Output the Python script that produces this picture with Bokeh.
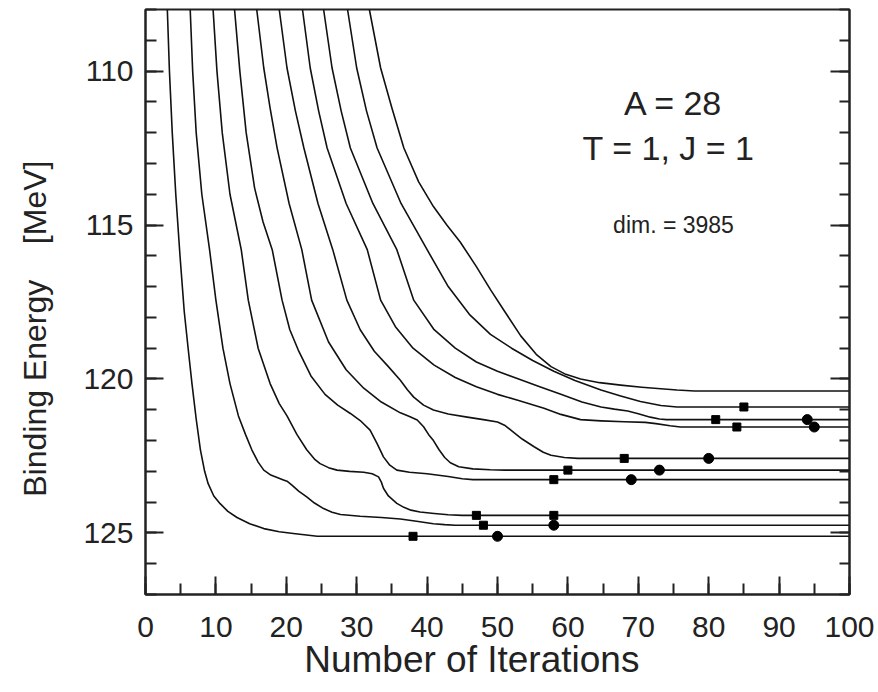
from bokeh.plotting import figure
from bokeh.models import Range1d, FixedTicker, LinearAxis, Label, CustomJSTickFormatter
from bokeh.embed import file_html
from bokeh.resources import INLINE

# ---- data (iteration, binding energy) ----
c1_x = [3.1, 3.4, 3.8, 4.3, 4.9, 5.5, 6.1, 6.6, 7.2, 7.8, 8.4, 8.9, 9.7, 10.6, 11.7, 13.0, 14.8, 16.8, 19.0, 21.0, 24.4, 100]
c1_y = [108.0, 110.0, 112.0, 114.0, 116.0, 117.8, 119.1, 120.15, 121.3, 122.3, 123.0, 123.4, 123.8, 124.05, 124.3, 124.5, 124.7, 124.86, 124.96, 125.02, 125.11, 125.11]

c2_x = [6.35, 6.7, 7.2, 8.0, 9.1, 10.0, 11.0, 12.0, 13.2, 14.2, 15.1, 16.0, 16.8, 17.8, 18.7, 19.5, 20.1, 20.8, 21.8, 22.9, 24.0, 25.3, 26.5, 27.7, 30.5, 33.5, 36.2, 38.5, 40.9, 42.5, 44.0, 100]
c2_y = [108.0, 110.0, 112.0, 114.0, 115.8, 117.44, 119.0, 120.15, 121.2, 121.8, 122.3, 122.7, 122.96, 123.12, 123.2, 123.27, 123.32, 123.45, 123.65, 123.83, 124.03, 124.21, 124.33, 124.40, 124.46, 124.5, 124.55, 124.62, 124.70, 124.73, 124.75, 124.75]

c3_x = [9.6, 10.15, 10.9, 12.0, 13.6, 14.6, 16.0, 17.7, 19.0, 20.1, 21.5, 22.9, 24.0, 24.8, 26.0, 27.2, 29.0, 31.0, 32.2, 33.1, 33.5, 33.8, 34.5, 35.7, 36.7, 37.7, 39.0, 41.0, 43.0, 45.0, 100]
c3_y = [108.0, 110.0, 112.0, 114.0, 115.8, 117.44, 119.0, 120.15, 120.8, 121.2, 121.8, 122.3, 122.6, 122.75, 122.88, 122.96, 123.0, 123.03, 123.08, 123.18, 123.35, 123.55, 123.8, 124.04, 124.17, 124.26, 124.32, 124.37, 124.41, 124.43, 124.43]

c4_x = [12.65, 13.4, 14.3, 15.5, 16.7, 18.0, 19.4, 20.5, 21.7, 23.5, 25.5, 27.3, 29.1, 30.5, 31.9, 32.9, 33.8, 34.7, 35.7, 37.5, 40.0, 43.0, 45.0, 46.5, 100]
c4_y = [108.0, 110.0, 112.0, 113.8, 114.9, 115.8, 117.44, 118.4, 119.06, 119.9, 120.5, 120.85, 121.12, 121.35, 121.66, 122.1, 122.53, 122.8, 122.96, 123.03, 123.08, 123.17, 123.24, 123.27, 123.27]

c5_x = [15.8, 16.8, 17.7, 18.7, 20.4, 22.2, 23.6, 26.0, 28.5, 31.0, 33.5, 36.2, 37.5, 38.6, 39.5, 40.2, 40.9, 41.7, 42.5, 43.3, 44.5, 46.5, 49.0, 51.0, 100]
c5_y = [108.0, 109.9, 111.2, 112.5, 114.3, 115.8, 117.44, 118.8, 119.7, 120.3, 120.75, 121.1, 121.22, 121.33, 121.55, 121.8, 122.0, 122.3, 122.55, 122.72, 122.85, 122.92, 122.95, 122.96, 122.96]

c6_x = [19.0, 20.1, 21.3, 22.5, 24.5, 26.6, 28.6, 30.5, 32.5, 34.5, 36.2, 37.2, 38.1, 39.5, 40.9, 43.0, 45.7, 48.0, 50.0, 51.0, 51.9, 53.5, 55.2, 56.5, 57.6, 59.5, 61.4, 100]
c6_y = [108.0, 109.9, 111.3, 112.5, 114.3, 115.8, 117.44, 118.4, 119.1, 119.6, 120.04, 120.35, 120.59, 120.85, 121.01, 121.14, 121.24, 121.32, 121.4, 121.5, 121.66, 121.95, 122.2, 122.38, 122.48, 122.55, 122.58, 122.58]

c7_x = [22.3, 23.4, 24.6, 25.8, 28.5, 31.5, 33.4, 35.5, 38.0, 41.0, 44.0, 47.0, 50.0, 53.0, 56.6, 59.0, 61.8, 64.7, 68.0, 71.0, 72.5, 74.5, 76.0, 100]
c7_y = [108.0, 109.9, 111.3, 112.5, 114.3, 115.8, 117.44, 118.3, 119.0, 119.55, 119.95, 120.25, 120.5, 120.7, 120.95, 121.15, 121.32, 121.36, 121.39, 121.41, 121.45, 121.52, 121.56, 121.56]

c8_x = [25.3, 26.5, 27.8, 29.1, 32.3, 35.7, 38.1, 41.0, 44.0, 47.0, 50.0, 53.0, 56.0, 59.0, 62.0, 64.7, 66.6, 68.5, 70.0, 71.7, 73.0, 74.0, 100]
c8_y = [108.0, 109.9, 111.3, 112.5, 114.3, 115.8, 117.44, 118.4, 119.0, 119.45, 119.75, 120.0, 120.25, 120.5, 120.75, 120.91, 120.98, 121.04, 121.13, 121.24, 121.3, 121.32, 121.32]

c9_x = [28.7, 30.0, 31.4, 32.9, 36.3, 40.0, 43.0, 46.0, 49.0, 52.0, 55.0, 58.0, 61.0, 64.7, 67.5, 70.3, 73.2, 75.5, 100]
c9_y = [108.0, 109.9, 111.3, 112.5, 114.3, 115.8, 117.0, 117.9, 118.55, 119.0, 119.4, 119.75, 120.05, 120.36, 120.55, 120.73, 120.86, 120.91, 120.91]

c10_x = [31.8, 33.4, 35.0, 36.7, 38.8, 40.9, 42.8, 44.7, 47.0, 49.0, 51.0, 53.3, 55.5, 57.6, 59.7, 61.8, 64.5, 67.5, 70.5, 73.2, 75.5, 78.0, 100]
c10_y = [108.0, 109.9, 111.2, 112.5, 113.6, 114.4, 115.0, 115.55, 116.35, 117.1, 117.8, 118.6, 119.2, 119.6, 119.85, 120.0, 120.12, 120.2, 120.27, 120.32, 120.36, 120.39, 120.39]

curves = [(c1_x, c1_y), (c2_x, c2_y), (c3_x, c3_y), (c4_x, c4_y), (c5_x, c5_y),
          (c6_x, c6_y), (c7_x, c7_y), (c8_x, c8_y), (c9_x, c9_y), (c10_x, c10_y)]

square_iter = [38, 48, 47, 58, 58, 60, 68, 84, 81, 85]
square_energy = [125.11, 124.75, 124.43, 124.43, 123.27, 122.96, 122.58, 121.56, 121.32, 120.91]
circle_iter = [50, 58, 69, 73, 80, 95, 94]
circle_energy = [125.11, 124.75, 123.27, 122.96, 122.58, 121.56, 121.32]

x_major = [0, 10, 20, 30, 40, 50, 60, 70, 80, 90, 100]
x_minor = list(range(0, 101, 5))
y_major = [110, 115, 120, 125]
y_minor = list(range(108, 128))

NB = "\u00a0"
FONT = "Liberation Sans"
INK = "#222222"

p = figure(width=878, height=692, output_backend="svg", toolbar_location=None,
           x_range=Range1d(0, 100), y_range=Range1d(127, 108), title=None)
p.min_border_left = 145
p.min_border_right = 29
p.min_border_top = 9
p.min_border_bottom = 98
p.background_fill_color = "white"
p.border_fill_color = "white"
p.grid.visible = False
p.outline_line_color = INK
p.outline_line_width = 2

for ax in (p.xaxis[0], p.yaxis[0]):
    ax.axis_line_color = INK
    ax.axis_line_width = 2
    ax.major_tick_line_color = INK
    ax.minor_tick_line_color = INK
    ax.major_tick_line_width = 2
    ax.minor_tick_line_width = 2
    ax.major_tick_out = 0
    ax.minor_tick_out = 0
    ax.major_tick_in = 18
    ax.minor_tick_in = 11
    ax.major_label_text_font = FONT
    ax.major_label_text_font_size = "30px"
    ax.major_label_text_color = INK
    ax.axis_label_text_font = FONT
    ax.axis_label_text_font_style = "normal"
    ax.axis_label_text_color = INK

p.xaxis[0].ticker = FixedTicker(ticks=x_major, minor_ticks=x_minor)
p.yaxis[0].ticker = FixedTicker(ticks=y_major, minor_ticks=y_minor)
p.xaxis[0].major_label_standoff = 22
p.yaxis[0].major_label_standoff = 12
p.xaxis[0].axis_label = "Number of Iterations" + NB * 5
p.xaxis[0].axis_label_text_font_size = "37px"
p.xaxis[0].axis_label_standoff = -1
p.yaxis[0].axis_label = "Binding Energy" + NB * 4 + "[MeV]" + NB * 6
p.yaxis[0].axis_label_text_font_size = "32px"
p.yaxis[0].axis_label_standoff = 27

right = LinearAxis(ticker=FixedTicker(ticks=y_major, minor_ticks=y_minor),
                   formatter=CustomJSTickFormatter(code="return ''"))
right.axis_line_color = INK
right.axis_line_width = 2
right.major_tick_line_color = INK
right.minor_tick_line_color = INK
right.major_tick_line_width = 2
right.minor_tick_line_width = 2
right.major_tick_out = 0
right.minor_tick_out = 0
right.major_tick_in = 19
right.minor_tick_in = 10
right.major_label_standoff = 0
p.add_layout(right, "right")

for cx, cy in curves:
    p.line(cx, cy, line_color="#111111", line_width=1.6, line_join="round")

p.scatter(square_iter, square_energy, marker="square", size=8, fill_color="black", line_color="black")
p.scatter(circle_iter, circle_energy, marker="circle", size=10, fill_color="black", line_color="black")

p.add_layout(Label(x=75.0, y=111.05, text="A = 28", text_align="center", text_baseline="alphabetic",
                   text_font=FONT, text_font_size="34px", text_color=INK))
p.add_layout(Label(x=74.3, y=112.51, text="T = 1, J = 1", text_align="center", text_baseline="alphabetic",
                   text_font=FONT, text_font_size="34px", text_color=INK))
p.add_layout(Label(x=75.0, y=115.0, text="dim. = 3985", text_align="center", text_baseline="alphabetic",
                   text_font=FONT, text_font_size="23px", text_color=INK))

open("out.html", "w").write(file_html(p, INLINE))
